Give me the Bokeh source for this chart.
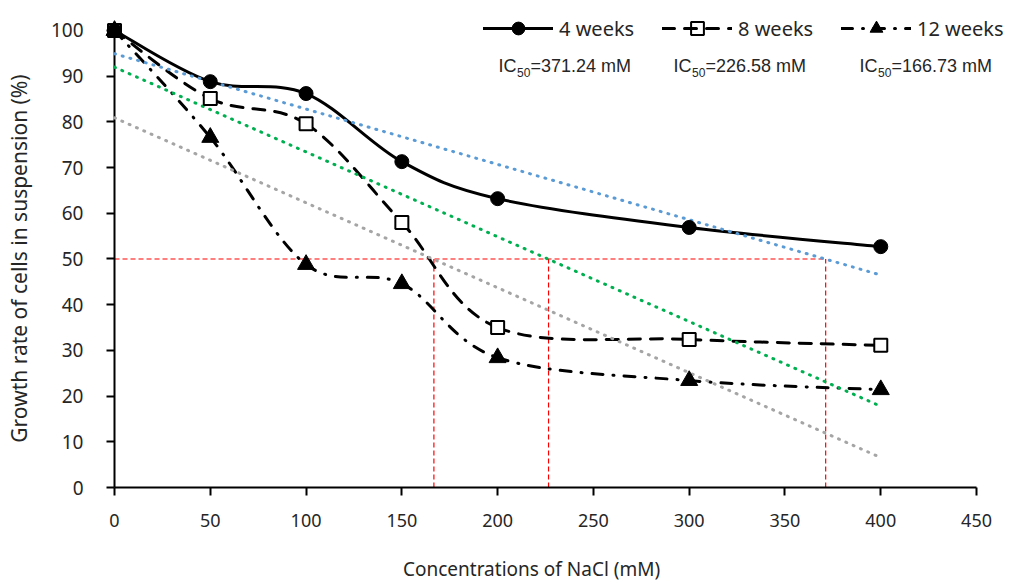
import numpy as np
from bokeh.plotting import figure
from bokeh.models import Range1d, FixedTicker, Legend, LegendItem, Label
from bokeh.core.properties import value
from bokeh.embed import file_html
from bokeh.resources import INLINE

# NaCl concentrations (mM) and growth rate of suspension cells (%)
nacl = [0, 50, 100, 150, 200, 300, 400]
week4 = [100, 88.8, 86.2, 71.3, 63.2, 56.9, 52.7]
week8 = [100, 85.1, 79.6, 58.0, 35.0, 32.4, 31.1]
week12 = [100, 76.6, 48.8, 44.6, 28.4, 23.4, 21.4]
series_names = ["4 weeks", "8 weeks", "12 weeks"]

# IC50 values (mM) for each culture period
ic50 = [371.24, 226.58, 166.73]
half_growth = 50

x_ticks = list(range(0, 451, 50))
y_ticks = list(range(0, 101, 10))

x_title = "Concentrations of NaCl (mM)"
y_title = "Growth rate of cells in suspension (%)"

FONT = "Noto Sans"
TEXT = "#262626"


def smooth_segments(xs, ys):
    """Cubic Bezier segments through the points (cardinal spline)."""
    x = np.asarray(xs, float)
    y = np.asarray(ys, float)
    n = len(x)
    xp = np.concatenate([[x[0]], x, [x[-1]]])
    yp = np.concatenate([[y[0]], y, [y[-1]]])
    cx0 = xp[1:n] + (xp[2:n + 1] - xp[0:n - 1]) / 6
    cy0 = yp[1:n] + (yp[2:n + 1] - yp[0:n - 1]) / 6
    cx1 = xp[2:n + 1] - (xp[3:n + 2] - xp[1:n]) / 6
    cy1 = yp[2:n + 1] - (yp[3:n + 2] - yp[1:n]) / 6
    return dict(x0=x[:-1], y0=y[:-1], x1=x[1:], y1=y[1:],
                cx0=cx0, cy0=cy0, cx1=cx1, cy1=cy1)


p = figure(width=1009, height=584,
           x_range=Range1d(0, 467.2), y_range=Range1d(0, 106.56),
           output_backend="svg", toolbar_location=None,
           min_border_left=114, min_border_right=0,
           min_border_top=0, min_border_bottom=97)
p.xgrid.visible = False
p.ygrid.visible = False
p.outline_line_color = None
p.background_fill_color = "white"
p.border_fill_color = "white"

# axes
for ax in (p.xaxis[0], p.yaxis[0]):
    ax.axis_line_color = "black"
    ax.axis_line_width = 2
    ax.major_tick_line_color = "black"
    ax.major_tick_line_width = 2
    ax.minor_tick_line_color = None
    ax.major_tick_in = 0
    ax.major_tick_out = 8
    ax.major_label_text_font = FONT
    ax.major_label_text_color = TEXT

p.xaxis.ticker = FixedTicker(ticks=x_ticks)
p.xaxis.bounds = (0, 450)
p.xaxis.major_label_text_font_size = "18px"
p.xaxis.major_label_standoff = 18

p.yaxis.ticker = FixedTicker(ticks=y_ticks)
p.yaxis.bounds = (0, 100)
p.yaxis.major_label_text_font_size = "19px"
p.yaxis.major_label_standoff = 23

# axis titles, drawn on top so they can sit in the margins
title_style = dict(text_font=value(FONT), text_color=TEXT,
                   text_align="center", text_baseline="middle")
xt = p.text(x=[217.7], y=[-17.9], text=[x_title],
            text_font_size="19px", **title_style)
yt = p.text(x=[-50.1], y=[50.1], text=[y_title], angle=np.pi / 2,
            text_font_size="21px", **title_style)
xt.level = "overlay"
yt.level = "overlay"

# IC50 guide lines
red = dict(line_color="#FF0000", line_width=1.2, line_dash="5 3")
p.segment(x0=[0], y0=[half_growth], x1=[max(ic50)], y1=[half_growth], **red)
p.segment(x0=ic50, y0=[0] * len(ic50), x1=ic50,
          y1=[half_growth] * len(ic50), **red)

# smoothed curves
dashes = ["solid", "12 10", "11 10 1 10"]
series = [week4, week8, week12]
curves = []
for vals, dash in zip(series, dashes):
    r = p.bezier(line_color="black", line_width=3, line_dash=dash,
                 line_cap="round", **smooth_segments(nacl, vals))
    r.level = "overlay"
    curves.append(r)

# linear trend lines
trend_colors = ["#5B9BD5", "#00B050", "#A5A5A5"]
x_fit = [min(nacl), max(nacl)]
for vals, col in zip(series, trend_colors):
    m, b = np.polyfit(nacl, vals, 1)
    r = p.line(x_fit, [m * xv + b for xv in x_fit], line_color=col,
               line_width=3, line_dash="1 7", line_cap="round")
    r.level = "overlay"

# markers
m8 = p.scatter(nacl, week8, marker="square", size=13, fill_color="white",
               line_color="black", line_width=2)
m12 = p.scatter(nacl, week12, marker="triangle", size=17, fill_color="black",
                line_color="black")
m4 = p.scatter(nacl, week4, marker="circle", size=14, fill_color="black",
               line_color="black")
for r in (m8, m12, m4):
    r.level = "overlay"

legend = Legend(items=[
    LegendItem(label=series_names[0], renderers=[curves[0], m4]),
    LegendItem(label=series_names[1], renderers=[m8, curves[1]]),
    LegendItem(label=series_names[2], renderers=[curves[2], m12]),
], orientation="horizontal", location=(369, 443),
    glyph_width=70, glyph_height=32, label_standoff=6, label_width=80,
    spacing=23, padding=0, margin=0,
    border_line_color=None, background_fill_alpha=0,
    label_text_font=FONT, label_text_font_size="20px",
    label_text_color=TEXT)
p.add_layout(legend, "center")

# IC50 annotations below the legend
ic_x = [384, 559, 745]
ic_y = 422
for xs, val in zip(ic_x, ic50):
    common = dict(x_units="screen", y_units="screen", text_color=TEXT,
                  text_font="Liberation Sans", text_baseline="middle")
    p.add_layout(Label(x=xs, y=ic_y, text="IC", text_font_size="18px", **common))
    p.add_layout(Label(x=xs + 18.5, y=ic_y - 7, text="50",
                       text_font_size="12px", **common))
    p.add_layout(Label(x=xs + 32, y=ic_y, text=f"={val:.2f} mM",
                       text_font_size="18px", **common))

open("out.html", "w").write(file_html(p, INLINE))
